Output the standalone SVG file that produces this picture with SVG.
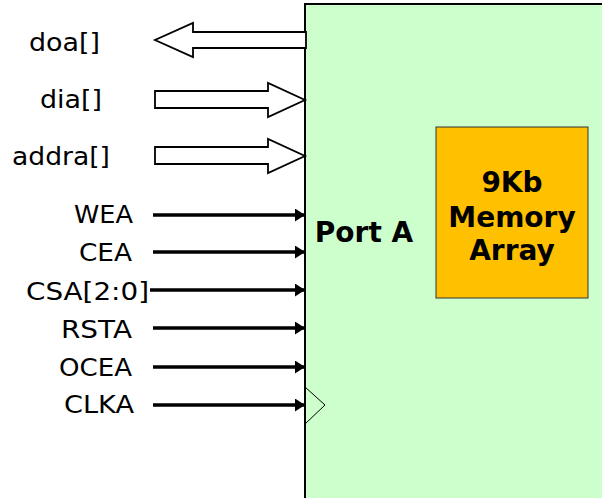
<svg xmlns="http://www.w3.org/2000/svg" width="602" height="498" viewBox="0 0 602 498">
<defs>
<style>
.lbl{font-family:"DejaVu Sans",Verdana,sans-serif;font-size:24px;fill:#000}
.bold{font-family:"DejaVu Sans",Verdana,sans-serif;font-size:28px;font-weight:bold;fill:#000;text-anchor:middle}
.bus{fill:#fff;stroke:#000;stroke-width:1.8}
.sig{stroke:#000;stroke-width:3.5;fill:none}
</style>
<marker id="ah" markerUnits="userSpaceOnUse" markerWidth="12" markerHeight="14" refX="10" refY="6.5" orient="auto">
<path d="M0,0 L10,6.5 L0,13 Z" fill="#000"/>
</marker>
</defs>
<g id="portA">
<rect x="305" y="4" width="310" height="510" fill="#ccffcc" stroke="#000" stroke-width="2"/>
<path d="M305,387 L325,405 L305,424" fill="none" stroke="#000" stroke-width="1"/>
<text class="bold" x="364" y="242">Port A</text>
</g>
<g id="memory">
<rect x="436" y="127" width="152" height="171" fill="#ffc000" stroke="#333" stroke-width="1"/>
<text class="bold" x="512" y="192">9Kb</text>
<text class="bold" x="512" y="227">Memory</text>
<text class="bold" x="512" y="260">Array</text>
</g>
<g id="labels">
<text class="lbl" x="29" y="51" textLength="71" lengthAdjust="spacingAndGlyphs">doa[]</text>
<text class="lbl" x="40" y="108" textLength="62" lengthAdjust="spacingAndGlyphs">dia[]</text>
<text class="lbl" x="12" y="165" textLength="98" lengthAdjust="spacingAndGlyphs">addra[]</text>
<text class="lbl" x="74" y="223" textLength="59" lengthAdjust="spacingAndGlyphs">WEA</text>
<text class="lbl" x="79" y="261" textLength="53" lengthAdjust="spacingAndGlyphs">CEA</text>
<text class="lbl" x="26" y="300" textLength="123" lengthAdjust="spacingAndGlyphs">CSA[2:0]</text>
<text class="lbl" x="61" y="338" textLength="71" lengthAdjust="spacingAndGlyphs">RSTA</text>
<text class="lbl" x="59" y="376" textLength="73" lengthAdjust="spacingAndGlyphs">OCEA</text>
<text class="lbl" x="64" y="413" textLength="70" lengthAdjust="spacingAndGlyphs">CLKA</text>
</g>
<g id="connectors">
<path class="bus" d="M306,32 L193,32 L193,23 L155,40 L193,57 L193,48 L306,48 Z"/>
<path class="bus" d="M155,91 L268,91 L268,83 L305,100 L268,117 L268,108 L155,108 Z"/>
<path class="bus" d="M155,147 L268,147 L268,139 L305,156 L268,173 L268,164 L155,164 Z"/>
<line class="sig" x1="153" y1="215" x2="305" y2="215" marker-end="url(#ah)"/>
<line class="sig" x1="153" y1="252" x2="305" y2="252" marker-end="url(#ah)"/>
<line class="sig" x1="150" y1="290" x2="305" y2="290" marker-end="url(#ah)"/>
<line class="sig" x1="153" y1="328" x2="305" y2="328" marker-end="url(#ah)"/>
<line class="sig" x1="153" y1="367" x2="305" y2="367" marker-end="url(#ah)"/>
<line class="sig" x1="153" y1="405" x2="305" y2="405" marker-end="url(#ah)"/>
</g>
</svg>
